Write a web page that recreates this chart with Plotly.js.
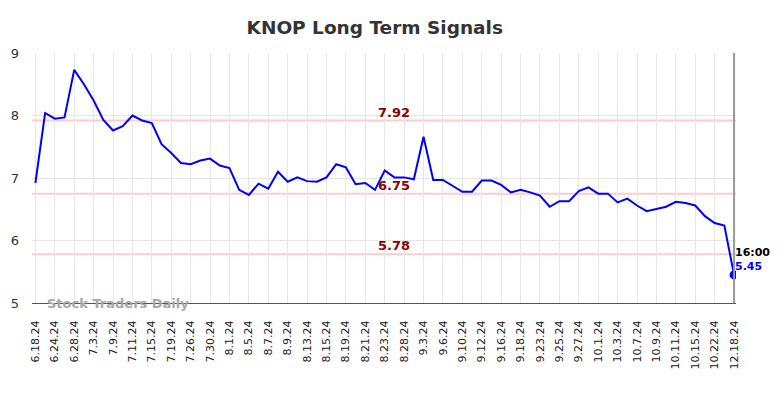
<!DOCTYPE html>
<html>
<head>
<meta charset="utf-8">
<script src="https://cdn.plot.ly/plotly-3.0.1.min.js"></script>
<style>html,body{margin:0;padding:0;background:#fff;}#chart{width:784px;height:398px;}</style>
</head>
<body>
<div id="chart"></div>
<script>
const dates = ["6.18.24","6.20.24","6.24.24","6.26.24","6.28.24","7.1.24","7.3.24","7.5.24","7.9.24","7.10.24",
"7.11.24","7.12.24","7.15.24","7.17.24","7.19.24","7.23.24","7.26.24","7.29.24","7.30.24","7.31.24",
"8.1.24","8.2.24","8.5.24","8.6.24","8.7.24","8.8.24","8.9.24","8.12.24","8.13.24","8.14.24",
"8.15.24","8.16.24","8.19.24","8.20.24","8.21.24","8.22.24","8.23.24","8.26.24","8.28.24","8.30.24",
"9.3.24","9.5.24","9.6.24","9.9.24","9.10.24","9.11.24","9.12.24","9.13.24","9.16.24","9.17.24",
"9.18.24","9.20.24","9.23.24","9.24.24","9.25.24","9.26.24","9.27.24","9.30.24","10.1.24","10.2.24",
"10.3.24","10.4.24","10.7.24","10.8.24","10.9.24","10.10.24","10.11.24","10.14.24","10.15.24","10.18.24",
"10.22.24","11.15.24","12.18.24"];
const prices = [6.92,8.04,7.95,7.97,8.73,8.50,8.24,7.93,7.76,7.83,
8.00,7.92,7.88,7.54,7.40,7.24,7.22,7.28,7.31,7.20,
7.16,6.81,6.73,6.91,6.83,7.10,6.94,7.01,6.95,6.94,
7.01,7.22,7.17,6.90,6.92,6.81,7.12,7.01,7.01,6.98,
7.66,6.97,6.97,6.87,6.78,6.78,6.96,6.96,6.89,6.77,
6.81,6.77,6.72,6.54,6.63,6.63,6.79,6.85,6.75,6.75,
6.61,6.67,6.56,6.47,6.50,6.54,6.62,6.60,6.56,6.39,
6.28,6.24,5.45];
const tickLabels = dates.filter((d,i)=>i%2===0);
const signalLevels = [7.92, 6.75, 5.78];
const signalLabels = ["7.92","6.75","5.78"];
const lastTime = "16:00";
const lastLabel = "5.45";

const n = dates.length;
const lastDate = dates[n-1];
const lastPrice = prices[n-1];

const traces = [
  {x: dates, y: prices, type: "scatter", mode: "lines",
   line: {color: "#0000ff", width: 2}, hoverinfo: "x+y"},
  {x: [lastDate], y: [lastPrice], type: "scatter", mode: "markers",
   marker: {color: "#0000ff", size: 9}, hoverinfo: "x+y"}
];

const shapes = signalLevels.map(v => ({
  type: "line", xref: "paper", x0: 0, x1: 1, yref: "y", y0: v, y1: v,
  line: {color: "#ffcccc", width: 2}, layer: "below"
}));
shapes.push({type: "line", xref: "x", x0: lastDate, x1: lastDate, yref: "paper", y0: 0, y1: 1,
  line: {color: "#999999", width: 2}});

const annotations = signalLevels.map((v,i) => ({
  x: dates[37], y: v, xref: "x", yref: "y", text: signalLabels[i], showarrow: false,
  yanchor: "bottom", yshift: -1, font: {family: "DejaVu Sans", size: 13, color: "#8b0000", weight: "bold"}
}));
annotations.push({x: lastDate, y: lastPrice, xref: "x", yref: "y", text: "<b>" + lastTime + "</b>",
  showarrow: false, xanchor: "left", yanchor: "bottom", xshift: -1, yshift: 14,
  font: {family: "DejaVu Sans", size: 11, color: "#000"}});
annotations.push({x: lastDate, y: lastPrice, xref: "x", yref: "y", text: "<b>" + lastLabel + "</b>",
  showarrow: false, xanchor: "left", yanchor: "bottom", xshift: -1, yshift: 0,
  font: {family: "DejaVu Sans", size: 11, color: "#0000ff"}});
annotations.push({x: 0.018, y: 5, xref: "paper", yref: "y", text: "<b>Stock Traders Daily</b>",
  showarrow: false, xanchor: "left", yanchor: "middle",
  font: {family: "DejaVu Sans", size: 13, color: "#a8a8a8"}});

const layout = {
  width: 784, height: 398,
  margin: {l: 32, r: 48, t: 53, b: 95},
  paper_bgcolor: "#fff", plot_bgcolor: "#fff",
  title: {text: "<b>KNOP Long Term Signals</b>", x: 0.478, xanchor: "center", y: 0.932, yanchor: "middle",
    font: {family: "DejaVu Sans", size: 18.5, color: "#333333"}},
  showlegend: false,
  xaxis: {type: "category", range: [-0.35, n - 1 + 0.2], tickmode: "array", tickvals: tickLabels, ticktext: tickLabels,
    tickangle: -90, tickfont: {family: "DejaVu Sans", size: 11, color: "#222"}, ticklabelstandoff: 12,
    showgrid: true, gridcolor: "#e6e6e6", gridwidth: 1, zeroline: false,
    showline: true, linecolor: "#555", linewidth: 1, ticks: "", automargin: false},
  yaxis: {range: [5, 9], tickvals: [5,6,7,8,9], tickfont: {family: "DejaVu Sans", size: 13, color: "#333"},
    ticklabelstandoff: 12,
    showgrid: true, gridcolor: "#e6e6e6", gridwidth: 1, zeroline: false, ticks: "",
    showline: false, automargin: false},
  shapes: shapes,
  annotations: annotations
};

Plotly.newPlot("chart", traces, layout, {displayModeBar: false, staticPlot: true});
</script>
</body>
</html>
